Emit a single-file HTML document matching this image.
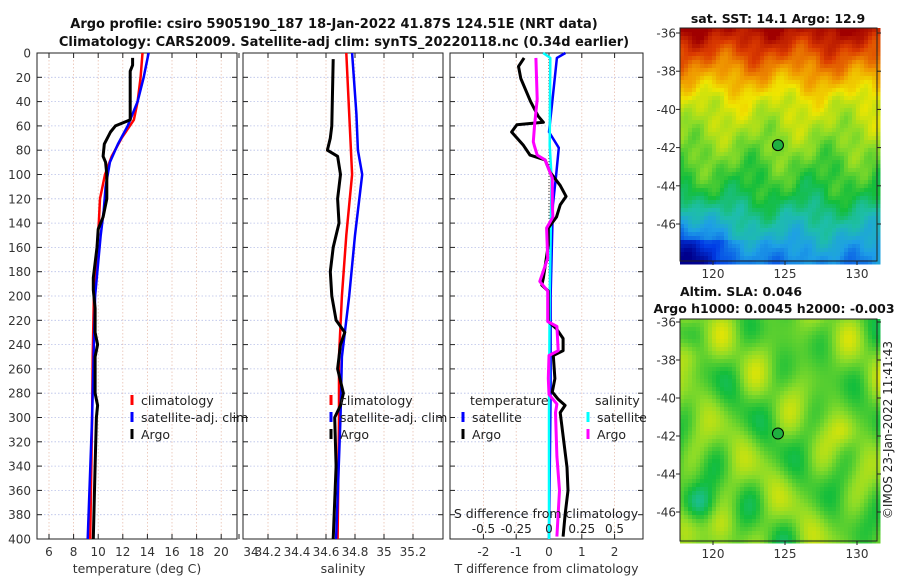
<!DOCTYPE html>
<html><head><meta charset="utf-8">
<style>
body{margin:0;background:#fff;}
svg{display:block;font-family:"DejaVu Sans","Liberation Sans",sans-serif;}
</style></head>
<body>
<svg id="fig" width="900" height="580" viewBox="0 0 900 580">
<text x="334" y="28" text-anchor="middle" font-size="13" font-weight="bold" fill="#111">Argo profile: csiro 5905190_187 18-Jan-2022 41.87S 124.51E (NRT data)</text>
<text x="344" y="46" text-anchor="middle" font-size="13" font-weight="bold" fill="#111">Climatology: CARS2009. Satellite-adj clim: synTS_20220118.nc (0.34d earlier)</text>
<text x="778" y="23" text-anchor="middle" font-size="12.5" font-weight="bold" fill="#111">sat. SST: 14.1 Argo: 12.9</text>
<text x="741" y="296" text-anchor="middle" font-size="12.5" font-weight="bold" fill="#111">Altim. SLA: 0.046</text>
<text x="774" y="313" text-anchor="middle" font-size="12.5" font-weight="bold" fill="#111">Argo h1000: 0.0045 h2000: -0.003</text>
<text transform="translate(892,430) rotate(-90)" text-anchor="middle" font-size="12" fill="#222">©IMOS 23-Jan-2022 11:41:43</text>
<g id="plots"></g>
</svg>
<script>
// ---- data ----
const tempClimDepth=[0,20,40,55,70,85,100,120,140,160,200,250,300,400];
const tempClim=[13.6,13.45,13.2,12.9,11.9,11.1,10.55,10.15,10.05,9.9,9.65,9.55,9.5,9.35];
const tempSatDepth=[0,20,40,60,75,90,110,130,150,200,300,400];
const tempSat=[14.1,13.7,13.2,12.4,11.6,10.95,10.6,10.45,10.2,9.75,9.5,9.15];
const tempArgoDepth=[4,10,15,30,55,60,65,75,85,90,100,120,135,145,160,185,195,210,230,240,250,280,290,300,340,400];
const tempArgo=[12.8,12.8,12.6,12.6,12.6,11.4,11.0,10.5,10.4,10.6,10.7,10.7,10.4,10.0,9.9,9.6,9.6,9.75,9.75,9.95,9.75,9.75,9.95,9.85,9.75,9.6];
const salClimDepth=[0,50,100,150,200,250,300,400];
const salClim=[34.74,34.76,34.78,34.74,34.71,34.69,34.69,34.68];
const salSatDepth=[0,50,80,100,150,200,250,300,400];
const salSat=[34.78,34.81,34.82,34.85,34.8,34.76,34.71,34.7,34.67];
const salArgoDepth=[5,60,70,80,85,100,120,140,160,180,200,220,230,240,260,280,290,300,340,400];
const salArgo=[34.65,34.64,34.63,34.61,34.68,34.7,34.68,34.69,34.65,34.63,34.64,34.67,34.73,34.7,34.68,34.72,34.7,34.66,34.67,34.65];
const dTSatDepth=[0,4,40,65,78,100,125,200,280,400];
const dTSat=[0.5,0.24,0.1,0.0,0.3,0.22,0.12,0.05,0.05,0.0];
const dTArgoDepth=[4,11,21,40,52,57,59,65,76,84,88,98,109,118,125,135,144,158,185,191,196,221,227,235,245,249,268,279,285,290,296,341,360,380,398];
const dTArgo=[-0.76,-0.93,-0.86,-0.56,-0.33,-0.17,-0.98,-1.14,-0.78,-0.58,-0.12,0.03,0.34,0.52,0.34,0.23,-0.02,-0.02,-0.17,-0.22,-0.02,-0.02,0.23,0.43,0.43,0.13,0.18,0.1,0.28,0.49,0.34,0.55,0.58,0.49,0.43];
const dSSatDepth=[0,4,76,103,200,300,400];
const dSSat=[-0.045,0.01,0.005,0.02,0.005,0.0,0.0];
const dSArgoDepth=[4,38,59,73,77,84,88,103,125,135,144,169,188,196,221,225,245,249,268,281,289,296,332,360,398];
const dSArgo=[-0.1,-0.09,-0.11,-0.12,-0.11,-0.09,-0.03,0.025,0.025,0.03,-0.018,-0.01,-0.07,-0.01,-0.01,0.06,0.07,0.0,-0.005,0.0,0.06,0.05,0.06,0.08,0.06];
const depthTicks=[0,20,40,60,80,100,120,140,160,180,200,220,240,260,280,300,320,340,360,380,400];
const tempTicks=[6,8,10,12,14,16,18,20];
const salTicks=[34,34.2,34.4,34.6,34.8,35,35.2];
const salTickLabels=["34","34.2","34.4","34.6","34.8","35","35.2"];
const dTTicks=[-2,-1,0,1,2];
const dSTicks=[-0.5,-0.25,0,0.25,0.5];
const dSTickLabels=["-0.5","-0.25","0","0.25","0.5"];
const latTicks=[-36,-38,-40,-42,-44,-46];
const lonTicks=[120,125,130];
const argoLon=124.51, argoLat=-41.87;

const NS="http://www.w3.org/2000/svg";
const root=document.getElementById('plots');
function el(tag,attrs,parent,txt){const e=document.createElementNS(NS,tag);for(const k in attrs)e.setAttribute(k,attrs[k]);if(txt!=null)e.textContent=txt;(parent||root).appendChild(e);return e;}
const TOP=53,BOT=539;
const yD=d=>TOP+d*(BOT-TOP)/400;

function panel(name,x0,x1,xs,ticks,labels,xlabel){
  const g=el('g',{});
  
  
  depthTicks.forEach(d=>{if(d>0&&d<400){const l=el('line',{x1:x0,x2:x1,y1:yD(d),y2:yD(d),stroke:'#b8c0e8','stroke-width':0.8,'stroke-dasharray':'1.5,2'},g);}});
  ticks.forEach((t,i)=>{const x=xs(t);if(x>x0+1&&x<x1-1){const l=el('line',{x1:x,x2:x,y1:TOP,y2:BOT,stroke:'#e8c0b0','stroke-width':0.8,'stroke-dasharray':'1.5,2'},g);}
    el('line',{x1:x,x2:x,y1:BOT,y2:BOT-5,stroke:'#222'},g);el('line',{x1:x,x2:x,y1:TOP,y2:TOP+5,stroke:'#222'},g);
    if(xlabel!==null){const tl=el('text',{x:Math.max(x,x0+8),y:BOT+17,'text-anchor':'middle','font-size':12,fill:'#333'},g,labels?labels[i]:String(t));}});
  depthTicks.forEach(d=>{el('line',{x1:x0,x2:x0+5,y1:yD(d),y2:yD(d),stroke:'#222'},g);el('line',{x1:x1,x2:x1-5,y1:yD(d),y2:yD(d),stroke:'#222'},g);});
  const r=el('rect',{x:x0,y:TOP,width:x1-x0,height:BOT-TOP,fill:'none',stroke:'#222','stroke-width':1},g);
  
  if(xlabel){const t=el('text',{x:(x0+x1)/2,y:BOT+34,'text-anchor':'middle','font-size':12.5,fill:'#333'},g,xlabel);}
  return g;
}
function line(g,depths,vals,xs,color,w,name){
  const p=el('polyline',{points:depths.map((d,i)=>xs(vals[i]).toFixed(1)+','+yD(d).toFixed(1)).join(' '),fill:'none',stroke:color,'stroke-width':w,'stroke-linejoin':'round'},g);
  
  
}
function legend(g,x,y,color,label,name){
  const m=el('line',{x1:x,x2:x,y1:y-10,y2:y,stroke:color,'stroke-width':3},g);
  
  const t=el('text',{x:x+9,y:y,'font-size':12.5,fill:'#222'},g,label);
  
}
depthTicks.forEach(d=>{const t=el('text',{x:31,y:yD(d)+4.5,'text-anchor':'end','font-size':12,fill:'#333'},root,String(d));});

const xT=t=>49+(t-6)*12.3;
const g1=panel('temperature',37,237,xT,tempTicks,null,'temperature (deg C)');
line(g1,tempClimDepth,tempClim,xT,'#f00',2.5,'temperature-climatology-line');
line(g1,tempSatDepth,tempSat,xT,'#00f',2.5,'temperature-satellite-line');
line(g1,tempArgoDepth,tempArgo,xT,'#000',3,'temperature-argo-line');
legend(g1,132,405,'#f00','climatology','legend-climatology');
legend(g1,132,422,'#00f','satellite-adj. clim','legend-satellite');
legend(g1,132,439,'#000','Argo','legend-argo');
const xS=s=>268+(s-34.2)*145;
const g2=panel('salinity',243,443,xS,salTicks,salTickLabels,'salinity');
line(g2,salClimDepth,salClim,xS,'#f00',2.5,'salinity-climatology-line');
line(g2,salSatDepth,salSat,xS,'#00f',2.5,'salinity-satellite-line');
line(g2,salArgoDepth,salArgo,xS,'#000',3,'salinity-argo-line');
legend(g2,331,405,'#f00','climatology','legend-climatology-2');
legend(g2,331,422,'#00f','satellite-adj. clim','legend-satellite-2');
legend(g2,331,439,'#000','Argo','legend-argo-2');
const xdT=v=>549+v*32.8;
const xdS=v=>549+v*131;
const g3=panel('difference',450,643,xdT,dTTicks,null,'T difference from climatology');
const z=el('line',{x1:549,x2:549,y1:TOP,y2:BOT,stroke:'#333','stroke-dasharray':'1,2','stroke-width':1},g3);

line(g3,dTSatDepth,dTSat,xdT,'#00f',2.5,'dT-satellite-line');
line(g3,dSSatDepth,dSSat,xdS,'#0ff',2.5,'dS-satellite-line');
line(g3,dTArgoDepth,dTArgo,xdT,'#000',3,'dT-argo-line');
line(g3,dSArgoDepth,dSArgo,xdS,'#f0f',3,'dS-argo-line');
const lt=el('text',{x:470,y:405,'font-size':12.5,fill:'#222'},g3,'temperature');
const ls=el('text',{x:595,y:405,'font-size':12.5,fill:'#222'},g3,'salinity');
legend(g3,463,422,'#00f','satellite','legend-t-satellite');
legend(g3,463,439,'#000','Argo','legend-t-argo');
legend(g3,588,422,'#0ff','satellite','legend-s-satellite');
legend(g3,588,439,'#f0f','Argo','legend-s-argo');
const st=el('text',{x:546,y:518,'text-anchor':'middle','font-size':12.5,fill:'#222'},g3,'S difference from climatology');
dSTicks.forEach((v,i)=>{const t=el('text',{x:xdS(v),y:533,'text-anchor':'middle','font-size':12,fill:'#222'},g3,dSTickLabels[i]);});

const cmapStops=[[0,0,0,140],[0.15,0,60,230],[0.3,30,160,230],[0.4,30,190,170],[0.5,20,190,60],[0.6,140,220,40],[0.7,240,230,0],[0.8,240,150,0],[0.9,220,60,0],[1,160,0,0]];
function cmap(v){v=Math.max(0,Math.min(1,v));for(let i=1;i<cmapStops.length;i++){const a=cmapStops[i-1],b=cmapStops[i];if(v<=b[0]){const f=(v-a[0])/(b[0]-a[0]);return `rgb(${a[1]+f*(b[1]-a[1])|0},${a[2]+f*(b[2]-a[2])|0},${a[3]+f*(b[3]-a[3])|0})`;}}return 'rgb(160,0,0)';}
function map(name,x0,y0,w,h,lat0,latScale,field,cell){
  const g=el('g',{});
  for(let y=0;y<h;y+=cell)for(let x=0;x<w;x+=cell){el('rect',{x:x0+x,y:y0+y,width:cell+0.5,height:cell+0.5,fill:cmap(field(x/w,y/h))},g);}
  el('rect',{x:x0,y:y0,width:w,height:h,fill:'none',stroke:'#222'},g);
  const lonX=l=>713+(l-120)*14.4;const latY=l=>lat0+(-36-l)*latScale;
  latTicks.forEach(l=>{const y=latY(l);el('line',{x1:x0,x2:x0-4,y1:y,y2:y,stroke:'#222'},g);el('line',{x1:x0+w,x2:x0+w+4,y1:y,y2:y,stroke:'#222'},g);
    const t=el('text',{x:x0-4,y:y+4.5,'text-anchor':'end','font-size':12,fill:'#333'},g,String(l));});
  lonTicks.forEach(l=>{const x=lonX(l);el('line',{x1:x,x2:x,y1:y0+h,y2:y0+h+4,stroke:'#222'},g);
    const t=el('text',{x:x,y:y0+h+17,'text-anchor':'middle','font-size':12,fill:'#333'},g,String(l));});
  const c=el('circle',{cx:lonX(argoLon),cy:latY(argoLat),r:5.5,fill:'#1fb040',stroke:'#000','stroke-width':1},g);
  
}
const sst=(u,v)=>{
  let b;
  if(v<0.3)b=0.98-v*1.0;else if(v<0.7)b=0.68-(v-0.3)*0.45;else b=0.5-(v-0.7)*0.8;
  b+=0.03*Math.sin(u*17+v*9)+0.02*Math.sin(u*31-v*23)+0.015*Math.cos(u*53+v*41);
  if(v>0.65)b-=0.2*Math.max(0,1-u/0.25)*Math.min(1,(v-0.65)/0.3);
  if(v>0.9)b-=0.1*Math.max(0,1-u/0.5);
  return b;};
const sla=(u,v)=>0.57+0.05*Math.sin(u*19+1)*Math.cos(v*17+2)+0.04*Math.sin(u*11-v*13)+0.025*Math.cos(u*29+v*7)
  +0.1*Math.exp(-((u-0.03)**2+(v-0.15)**2)/0.006)-0.12*Math.exp(-((u-0.08)**2+(v-0.82)**2)/0.006)
  +0.06*Math.exp(-((u-0.2)**2+(v-0.92)**2)/0.005)+0.06*Math.exp(-((u-0.82)**2+(v-0.5)**2)/0.004);
map('sst-map',680,28,197,233,33,19.1,sst,4);
map('sla-map',680,319,197,222,322,19,sla,4);
</script>
</body></html>
